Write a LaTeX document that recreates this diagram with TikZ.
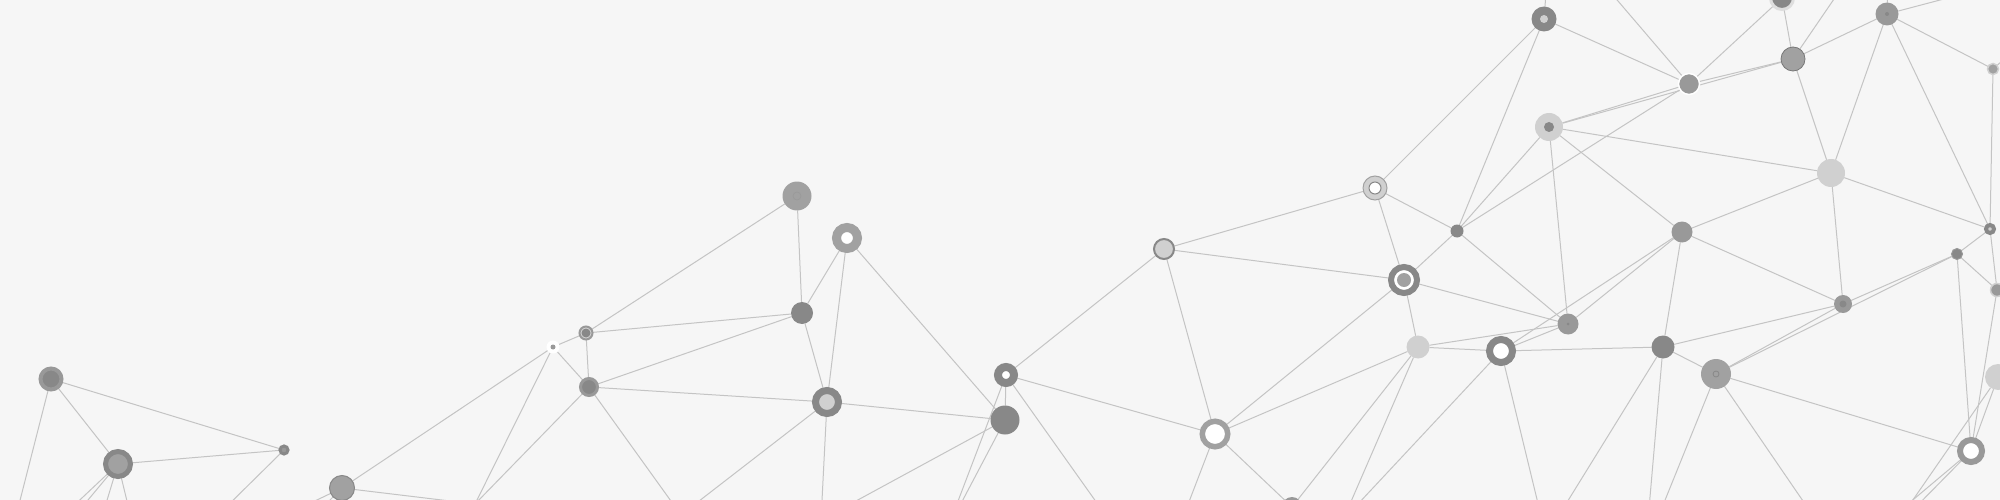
\documentclass[tikz,border=0pt]{standalone}
\usepackage{tikz}
\usepackage{xcolor}
\definecolor{paper}{RGB}{246,246,246}
\definecolor{linkgray}{RGB}{196,196,196}
\definecolor{dk}{RGB}{136,136,136}
\definecolor{md}{RGB}{153,153,153}
\definecolor{mg}{RGB}{161,161,161}
\definecolor{lt}{RGB}{208,208,208}
\definecolor{lt2}{RGB}{222,222,222}
\definecolor{edge}{RGB}{119,119,119}
\pgfdeclarelayer{back}
\pgfsetlayers{back,main}

\begin{document}
\begin{tikzpicture}[x=1pt, y=-1pt,
  nd/.style={circle, inner sep=0pt, outer sep=0pt, minimum size=#1},
  link/.style={draw=linkgray, line width=1pt}]
  \useasboundingbox (0,0) rectangle (2000,500);

  % left group
  \node[nd=21pt, fill=dk, draw=md, line width=4pt] (A) at (51,379) {};
  \node[nd=25pt, fill=mg, draw=dk, line width=5pt] (B) at (118,464) {};
  \node[nd=8pt, fill=md, draw=dk, line width=3pt] (C) at (284,450) {};
  \node[nd=25pt, fill=mg, draw=dk, line width=1pt] (D) at (342,488) {};

  % middle group
  \node[nd=13pt, fill=white] (E) at (553,347) {};
  \fill[md] (E) circle[radius=2.5pt];
  \node[nd=13pt, fill=lt, draw=md, line width=2pt] (G) at (586,333) {};
  \fill[dk] (G) circle[radius=4.5pt];
  \node[nd=17pt, fill=dk, draw=md, line width=3pt] (H) at (589,387) {};
  \node[nd=29pt, fill=mg] (F) at (797,196) {};
  \draw[md, line width=0.6pt] (F) circle[radius=4pt];
  \node[nd=22pt, fill=dk] (I) at (802,313) {};
  \node[nd=21pt, fill=white, draw=mg, line width=9pt] (K) at (847,238) {};
  \node[nd=23pt, fill=lt, draw=dk, line width=7pt] (J) at (827,402) {};
  \node[nd=16pt, fill=white, draw=dk, line width=8pt] (L) at (1006,375) {};
  \node[nd=29pt, fill=dk] (M) at (1005,420) {};
  \node[nd=20pt, fill=lt, draw=dk, line width=2pt] (N) at (1164,249) {};

  % right group
  \node[nd=24pt, fill=lt, draw=mg, line width=1pt] (P) at (1375,188) {};
  \filldraw[fill=white, draw=dk, line width=1pt] (P) circle[radius=6pt];
  \node[nd=25pt, fill=dk] (R) at (1544,19) {};
  \fill[lt] (R) circle[radius=4pt];
  \node[nd=28pt, fill=lt] (S) at (1549,127) {};
  \fill[dk] (S) circle[radius=5pt];
  \node[nd=13pt, fill=dk] (T) at (1457,231) {};
  \node[nd=26pt, fill=white, draw=dk, line width=6pt] (Q) at (1404,280) {};
  \fill[mg] (Q) circle[radius=7pt];
  \node[nd=23pt, fill=lt] (AA) at (1418,347) {};
  \node[nd=21pt, fill=md] (Z) at (1568,324) {};
  \fill[dk] (Z) circle[radius=1.5pt];
  \node[nd=23pt, fill=white, draw=dk, line width=7pt] (AB) at (1501,351) {};
  \node[nd=25.5pt, fill=white, draw=mg, line width=5.5pt] (O) at (1215,434) {};
  \node[nd=20pt, fill=md] (X3) at (1292,507) {};
  \node[nd=21pt, fill=md, draw=white, line width=1.5pt] (V) at (1689,84) {};
  \node[nd=24pt, fill=mg, draw=edge, line width=0.8pt] (DD) at (1793,59) {};
  \node[nd=23pt, fill=dk, draw=lt2, line width=3pt] (EE) at (1782,-2) {};
  \node[nd=23pt, fill=md] (FF) at (1887,14) {};
  \fill[dk] (FF) circle[radius=2pt];
  \node[nd=11pt, fill=mg, draw=lt, line width=1.5pt] (W) at (1993,69) {};
  \node[nd=28pt, fill=lt] (Y) at (1831,173) {};
  \node[nd=8pt, fill=lt, draw=dk, line width=4pt] (GG) at (1990,229) {};
  \node[nd=21pt, fill=md] (HH) at (1682,232) {};
  \node[nd=23pt, fill=dk] (KK) at (1663,347) {};
  \node[nd=30pt, fill=mg] (LL) at (1716,374) {};
  \draw[dk, line width=0.8pt] (LL) circle[radius=3pt];
  \node[nd=18pt, fill=md] (JJ) at (1843,304) {};
  \fill[dk] (JJ) circle[radius=3.5pt];
  \node[nd=11pt, fill=dk, draw=md, line width=1pt] (II) at (1957,254) {};
  \node[nd=13pt, fill=md, draw=lt, line width=1.5pt] (MM) at (1997,290) {};
  \node[nd=26pt, fill=lt] (NN) at (1998,377) {};
  \node[nd=22pt, fill=white, draw=md, line width=6pt] (OO) at (1971,451) {};

  % loose ends outside the frame
  \coordinate (xa) at (15,520);
  \coordinate (xb1) at (48,530);
  \coordinate (xb2) at (63,530);
  \coordinate (xb3) at (98,530);
  \coordinate (xb4) at (134,530);
  \coordinate (xc) at (213,520);
  \coordinate (xd1) at (275,520);
  \coordinate (xd2) at (310,520);
  \coordinate (X1) at (475,504);
  \coordinate (X2) at (681,515);
  \coordinate (X4) at (821,520);
  \coordinate (X5) at (947,530);
  \coordinate (X6) at (1109,520);
  \coordinate (X7) at (1182,520);
  \coordinate (X8) at (1343,520);
  \coordinate (X9) at (1542,520);
  \coordinate (xk1) at (1556,520);
  \coordinate (xk2) at (1648,520);
  \coordinate (xl1) at (1657,520);
  \coordinate (xl2) at (1816,520);
  \coordinate (xn) at (1899,520);
  \coordinate (xo1) at (1889,520);
  \coordinate (xo2) at (1903,520);
  \coordinate (xr) at (1547,-20);
  \coordinate (xv) at (1600,-20);
  \coordinate (xdd) at (1847,-20);
  \coordinate (xf1) at (1888,-20);
  \coordinate (xf2) at (1978,-10);
  \coordinate (xw) at (2020,45);

  \begin{pgfonlayer}{back}
    \fill[paper] (0,0) rectangle (2000,500);
    \foreach \u/\v in {A/B, A/C, A/xa, B/C, B/xb1, B/xb2, B/xb3, B/xb4, C/xc,
        D/E, D/X1, D/xd1, D/xd2,
        E/G, E/H, E/X1, G/F, G/I, G/H, H/I, H/J, H/X1, H/X2, F/I,
        K/I, K/J, K/M, I/J, J/M, J/X2, J/X4,
        L/M, L/N, L/O, L/X5, L/X6, M/X4, M/X5,
        N/P, N/Q, N/O, P/R, P/T, P/Q, R/T, R/V, R/xr,
        S/T, S/V, S/DD, S/Y, S/HH, S/Z, T/Q, T/Z, T/V,
        Q/O, Q/AA, Q/Z, AA/O, AA/Z, AA/AB, AA/X3, AA/X8,
        AB/Z, AB/HH, AB/KK, AB/X8, AB/X9, Z/HH, O/X3, O/X7,
        V/EE, V/DD, V/xv, DD/EE, DD/FF, DD/Y, DD/xdd,
        FF/Y, FF/W, FF/GG, FF/xf1, FF/xf2, W/GG, W/xw,
        Y/HH, Y/GG, Y/JJ, GG/II, GG/MM, HH/KK, HH/JJ,
        KK/JJ, KK/LL, KK/xk1, KK/xk2,
        LL/JJ, LL/II, LL/OO, LL/xl1, LL/xl2,
        JJ/II, II/MM, II/OO, MM/OO, NN/OO, NN/xn, OO/xo1, OO/xo2}
      \draw[link] (\u) -- (\v);
  \end{pgfonlayer}
\end{tikzpicture}
\end{document}
